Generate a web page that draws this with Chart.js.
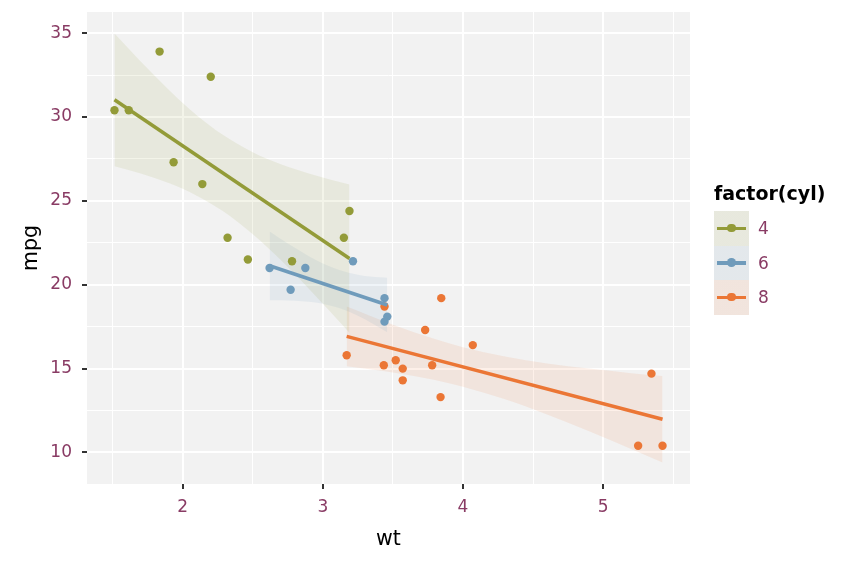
<!DOCTYPE html>
<html>
<head>
<meta charset="utf-8">
<script src="https://cdn.jsdelivr.net/npm/chart.js@4/dist/chart.umd.min.js"></script>
<style>
  html, body { margin: 0; padding: 0; background: #ffffff; }
  #wrap { position: relative; width: 850px; height: 566px; font-family: "DejaVu Sans", sans-serif; }
  #c { position: absolute; left: 0; top: 0; }
  #legend { position: absolute; left: 714px; top: 181px; }
  #legend .ttl { font-weight: bold; font-size: 19px; color: #000; line-height: 24px; height: 24px; white-space: nowrap; }
  #legend .row { position: relative; height: 34.5px; }
  #legend .key { position: absolute; left: 0; top: 0; width: 35px; height: 34.5px; }
  #legend .ln { position: absolute; left: 3px; width: 29px; top: 15.5px; height: 3.5px; }
  #legend .pt { position: absolute; left: 13.25px; top: 12.75px; width: 8.5px; height: 8.5px; border-radius: 50%; }
  #legend .lab { position: absolute; left: 44px; top: 0; line-height: 34.5px; font-size: 17px; color: #893B64; }
</style>
</head>
<body>
<div id="wrap">
  <canvas id="c" width="850" height="566"></canvas>
  <div id="legend"></div>
</div>
<script>
// ---- data (mtcars: wt vs mpg by cylinder count) ----
const groups = ['4', '6', '8'];
const legendTitle = 'factor(cyl)';
const xTitle = 'wt';
const yTitle = 'mpg';

const wt4  = [2.320, 3.190, 3.150, 2.200, 1.615, 1.835, 2.465, 1.935, 2.140, 1.513, 2.780];
const mpg4 = [22.8, 24.4, 22.8, 32.4, 30.4, 33.9, 21.5, 27.3, 26.0, 30.4, 21.4];
const wt6  = [2.620, 2.875, 3.215, 3.460, 3.440, 3.440, 2.770];
const mpg6 = [21.0, 21.0, 21.4, 18.1, 19.2, 17.8, 19.7];
const wt8  = [3.440, 3.570, 4.070, 3.730, 3.780, 5.250, 5.424, 5.345, 3.520, 3.435, 3.840, 3.845, 3.170, 3.570];
const mpg8 = [18.7, 14.3, 16.4, 17.3, 15.2, 10.4, 10.4, 14.7, 15.5, 15.2, 13.3, 19.2, 15.8, 15.0];

// fitted lines (end points)
const fitX4 = [1.513, 3.190], fitY4 = [31.03, 21.56];
const fitX6 = [2.620, 3.460], fitY6 = [21.13, 18.79];
const fitX8 = [3.170, 5.424], fitY8 = [16.92, 11.98];

// confidence bands
const bandX4  = [1.513, 1.7, 1.9, 2.1, 2.286, 2.5, 2.7, 2.9, 3.05, 3.19];
const bandLo4 = [27.07, 26.63, 26.06, 25.31, 24.39, 23.01, 21.47, 19.76, 18.42, 17.14];
const bandHi4 = [34.98, 33.31, 31.63, 30.11, 28.94, 27.90, 27.18, 26.63, 26.27, 25.97];
const bandX6  = [2.62, 2.7, 2.8, 2.9, 3.0, 3.117, 3.25, 3.35, 3.46];
const bandLo6 = [19.08, 19.08, 19.05, 18.99, 18.87, 18.61, 18.15, 17.71, 17.16];
const bandHi6 = [23.17, 22.73, 22.20, 21.70, 21.27, 20.88, 20.60, 20.48, 20.42];
const bandX8  = [3.17, 3.5, 3.8, 4.0, 4.3, 4.6, 4.9, 5.2, 5.424];
const bandLo8 = [15.14, 14.77, 14.32, 13.92, 13.17, 12.26, 11.26, 10.20, 9.40];
const bandHi8 = [18.70, 17.62, 16.76, 16.28, 15.72, 15.31, 15.00, 14.73, 14.56];

const xTicks = [2, 3, 4, 5];
const yTicks = [10, 15, 20, 25, 30, 35];

// ---- styles ----
const colors = { '4': '#939B38', '6': '#6F9BBB', '8': '#EB7635' };
const bandRGBA = { '4': 'rgba(147,155,56,0.11)', '6': 'rgba(111,155,187,0.11)', '8': 'rgba(235,118,53,0.11)' };
const tickColor = '#893B64';
const font = '"DejaVu Sans", sans-serif';

const series = {
  '4': { wt: wt4, mpg: mpg4, fx: fitX4, fy: fitY4, bx: bandX4, lo: bandLo4, hi: bandHi4 },
  '6': { wt: wt6, mpg: mpg6, fx: fitX6, fy: fitY6, bx: bandX6, lo: bandLo6, hi: bandHi6 },
  '8': { wt: wt8, mpg: mpg8, fx: fitX8, fy: fitY8, bx: bandX8, lo: bandLo8, hi: bandHi8 }
};

const zip = (xs, ys) => xs.map((x, i) => ({ x: x, y: ys[i] }));

const datasets = [];
groups.forEach(g => {
  const s = series[g];
  const loIndex = datasets.length;
  datasets.push({
    type: 'line', label: g + ' lower', data: zip(s.bx, s.lo),
    borderWidth: 0, borderColor: 'rgba(0,0,0,0)', pointRadius: 0, fill: false,
    cubicInterpolationMode: 'monotone', order: 3
  });
  datasets.push({
    type: 'line', label: g + ' upper', data: zip(s.bx, s.hi),
    borderWidth: 0, borderColor: 'rgba(0,0,0,0)', pointRadius: 0,
    fill: { target: loIndex }, backgroundColor: bandRGBA[g],
    cubicInterpolationMode: 'monotone', order: 3
  });
});
groups.forEach(g => {
  const s = series[g];
  datasets.push({
    type: 'scatter', label: g, data: zip(s.wt, s.mpg),
    pointRadius: 4.2, pointBorderWidth: 0, backgroundColor: colors[g], borderColor: colors[g], order: 2
  });
});
groups.forEach(g => {
  const s = series[g];
  datasets.push({
    type: 'line', label: g + ' fit', data: zip(s.fx, s.fy),
    borderWidth: 3.5, borderColor: colors[g], borderCapStyle: 'butt', pointRadius: 0, fill: false, order: 1
  });
});

const panelBg = {
  id: 'panelBg',
  beforeDraw(chart) {
    const { ctx, chartArea: a } = chart;
    ctx.save();
    ctx.fillStyle = '#F2F2F2';
    ctx.fillRect(a.left, a.top, a.right - a.left, a.bottom - a.top);
    ctx.restore();
  }
};

const isMajorX = v => xTicks.some(t => Math.abs(t - v) < 1e-9);
const isMajorY = v => yTicks.some(t => Math.abs(t - v) < 1e-9);

new Chart(document.getElementById('c'), {
  type: 'scatter',
  data: { datasets: datasets },
  options: {
    responsive: false,
    animation: false,
    layout: { padding: { left: 0, right: 160, top: 12, bottom: 0 } },
    plugins: { legend: { display: false }, tooltip: { enabled: false } },
    scales: {
      x: {
        type: 'linear', min: 1.317, max: 5.620,
        afterFit(scale) { scale.height = 82; scale.paddingLeft = 0; scale.paddingRight = 0; },
        border: { display: false },
        grid: {
          color: '#ffffff',
          lineWidth: c => (c.tick && isMajorX(c.tick.value)) ? 2 : 1,
          tickColor: c => (c.tick && isMajorX(c.tick.value)) ? '#333333' : 'rgba(0,0,0,0)',
          tickLength: 5, tickWidth: 2
        },
        ticks: {
          stepSize: 0.5, includeBounds: false, autoSkip: false, maxRotation: 0,
          color: tickColor, font: { family: font, size: 17 }, padding: 8,
          callback: v => isMajorX(v) ? String(v) : ''
        },
        title: { display: true, text: xTitle, color: '#000', font: { family: font, size: 20.5 }, padding: { top: 0, bottom: 14 } }
      },
      y: {
        type: 'linear', min: 8.12, max: 36.26,
        afterFit(scale) { scale.width = 87; scale.paddingTop = 0; scale.paddingBottom = 0; },
        border: { display: false },
        grid: {
          color: '#ffffff',
          lineWidth: c => (c.tick && isMajorY(c.tick.value)) ? 2 : 1,
          tickColor: c => (c.tick && isMajorY(c.tick.value)) ? '#333333' : 'rgba(0,0,0,0)',
          tickLength: 5, tickWidth: 2
        },
        ticks: {
          stepSize: 2.5, includeBounds: false, autoSkip: false,
          color: tickColor, font: { family: font, size: 17 }, padding: 10,
          callback: v => isMajorY(v) ? String(v) : ''
        },
        title: { display: true, text: yTitle, color: '#000', font: { family: font, size: 20.5 }, padding: { top: 19, bottom: 0 } }
      }
    }
  },
  plugins: [panelBg]
});

// ---- legend (HTML) ----
const leg = document.getElementById('legend');
const ttl = document.createElement('div');
ttl.className = 'ttl';
ttl.textContent = legendTitle;
leg.appendChild(ttl);
const spacer = document.createElement('div');
spacer.style.height = '6px';
leg.appendChild(spacer);
groups.forEach(g => {
  const row = document.createElement('div');
  row.className = 'row';
  const key = document.createElement('div');
  key.className = 'key';
  key.style.background = 'linear-gradient(' + bandRGBA[g] + ',' + bandRGBA[g] + '), #F2F2F2';
  const ln = document.createElement('div');
  ln.className = 'ln';
  ln.style.background = colors[g];
  const pt = document.createElement('div');
  pt.className = 'pt';
  pt.style.background = colors[g];
  key.appendChild(ln);
  key.appendChild(pt);
  const lab = document.createElement('div');
  lab.className = 'lab';
  lab.textContent = g;
  row.appendChild(key);
  row.appendChild(lab);
  leg.appendChild(row);
});
</script>
</body>
</html>
